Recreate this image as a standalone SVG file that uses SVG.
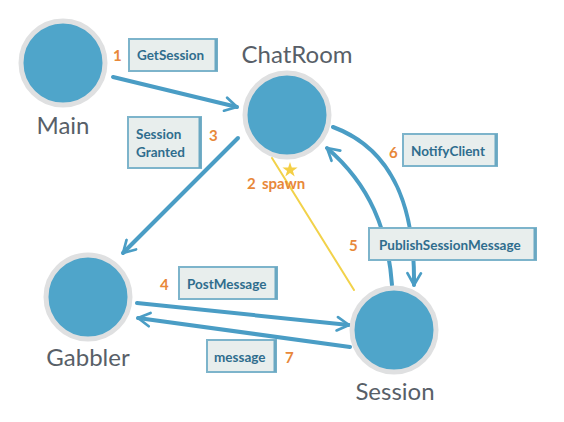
<svg xmlns="http://www.w3.org/2000/svg" width="564" height="422" viewBox="0 0 564 422">
<defs>
<marker id="ah" viewBox="0 0 10 10" refX="8" refY="5" markerWidth="4.2" markerHeight="4.2" orient="auto" markerUnits="strokeWidth">
<path d="M1,1 L8,5 L1,9" fill="none" stroke="#4a9dc5" stroke-width="1.6" stroke-linecap="round" stroke-linejoin="round"/>
</marker>
</defs>
<style>
.node circle{fill:#4fa5ca;stroke:#dfe0e1;stroke-width:5}
.nl{font-family:Lato,"Open Sans",sans-serif;font-size:24px;fill:#585f68;text-anchor:middle}
.conn path{fill:none;stroke:#4a9dc5;stroke-width:4;stroke-linecap:round}
.box rect{fill:#e8eeed;stroke:#7db4cb;stroke-width:2}
.box line{stroke:#6aa8c2;stroke-width:3}
.bt{font-family:Lato,"Open Sans",sans-serif;font-weight:bold;font-size:13.5px;fill:#2f6d8d}
.num{font-family:Lato,"Open Sans",sans-serif;font-weight:bold;font-size:15px;fill:#e8883a}
</style>
<rect width="564" height="422" fill="#ffffff"/>
<g id="connectors" class="conn">
<path d="M272,158 L354,290" style="stroke:#f2d24a;stroke-width:2"/>
<path d="M113,77 L237,107" marker-end="url(#ah)"/>
<path d="M238,138 L123,253" marker-end="url(#ah)"/>
<path d="M392,285 C388,230 370,185 327,148" marker-end="url(#ah)"/>
<path d="M333,127 C395,150 415,210 414,285" marker-end="url(#ah)"/>
<path d="M137,303 L349,325" marker-end="url(#ah)"/>
<path d="M350,347 L138,318" marker-end="url(#ah)"/>
</g>
<g id="main" class="node"><circle cx="63" cy="63" r="42"/><text class="nl" x="63" y="134">Main</text></g>
<g id="chatroom" class="node"><circle cx="287" cy="115" r="42"/><text class="nl" x="297" y="63">ChatRoom</text></g>
<g id="gabbler" class="node"><circle cx="88" cy="297" r="42"/><text class="nl" x="88" y="366">Gabbler</text></g>
<g id="session" class="node"><circle cx="394" cy="330" r="42"/><text class="nl" x="395" y="400">Session</text></g>
<g id="spawn">
<path d="M290,162 L291.8,167.5 L297.6,167.5 L292.9,170.9 L294.7,176.4 L290,173 L285.3,176.4 L287.1,170.9 L282.4,167.5 L288.2,167.5 Z" fill="#f4cf45"/>
<text class="num" x="247" y="189">2</text><text class="num" x="262" y="189">spawn</text>
</g>
<g id="msg-getsession" class="box"><rect x="129" y="39" width="88" height="32"/><line x1="216" y1="39" x2="216" y2="71"/><text class="bt" x="137" y="60">GetSession</text><text class="num" x="113" y="61">1</text></g>
<g id="msg-sessiongranted" class="box"><rect x="128" y="117" width="73" height="51"/><line x1="200" y1="117" x2="200" y2="168"/><text class="bt" x="136" y="139">Session</text><text class="bt" x="136" y="157">Granted</text><text class="num" x="209" y="141">3</text></g>
<g id="msg-notifyclient" class="box"><rect x="403" y="134" width="94" height="32"/><line x1="496" y1="134" x2="496" y2="166"/><text class="bt" x="411" y="156">NotifyClient</text><text class="num" x="389" y="158">6</text></g>
<g id="msg-publish" class="box"><rect x="369" y="228" width="167" height="32"/><line x1="535" y1="228" x2="535" y2="260"/><text class="bt" x="379" y="250">PublishSessionMessage</text><text class="num" x="349" y="251">5</text></g>
<g id="msg-postmessage" class="box"><rect x="179" y="267" width="98" height="32"/><line x1="276" y1="267" x2="276" y2="299"/><text class="bt" x="187" y="289">PostMessage</text><text class="num" x="160" y="290">4</text></g>
<g id="msg-message" class="box"><rect x="207" y="340" width="69" height="32"/><line x1="275" y1="340" x2="275" y2="372"/><text class="bt" x="214" y="362">message</text><text class="num" x="285" y="363">7</text></g>
</svg>
